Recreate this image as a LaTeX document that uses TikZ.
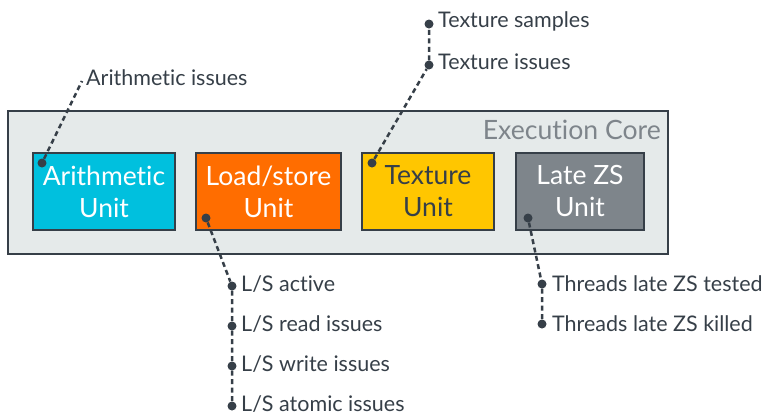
\documentclass[tikz,border=0pt]{standalone}
\usepackage{fontspec}
\setmainfont{Lato}[Ligatures={NoCommon}]
\usepackage{tikz}
\usetikzlibrary{calc}
\definecolor{ink}{HTML}{363F48}
\definecolor{corefill}{HTML}{E5EAEA}
\definecolor{arithfill}{HTML}{00C0DE}
\definecolor{lsfill}{HTML}{FF6D00}
\definecolor{texfill}{HTML}{FFC600}
\definecolor{zsfill}{HTML}{7E858B}

\tikzset{
  unitbox/.style={draw=ink, line width=2pt, minimum height=77pt, inner sep=0pt,
    align=center, font=\fontsize{26.5}{32}\selectfont},
  pin/.style={circle, fill=ink, inner sep=0pt, minimum size=9pt},
  lead/.style={ink, line width=2.5pt, dash pattern=on 5pt off 3.5pt},
  cnt/.style={anchor=west, text=ink, inner sep=0pt, font=\fontsize{21.5}{24}\selectfont}
}

\begin{document}
\begin{tikzpicture}[x=1pt, y=-1pt]
\useasboundingbox (0,0) rectangle (763,416);

\node[draw=ink, fill=corefill, line width=2pt, minimum width=660pt, minimum height=143pt] (core) at (338,182.5) {};
\node[anchor=north east, text=zsfill, inner sep=0pt, font=\fontsize{26.6}{30}\selectfont] (corelabel) at (661,120) {Execution Core};

\node[unitbox, fill=arithfill, text=white, minimum width=142pt] (arith) at (104,191.5) {Arithmetic\\Unit};
\node[unitbox, fill=lsfill, text=white, minimum width=145pt] (ls) at (268.5,191.5) {Load/store\\Unit};
\node[unitbox, fill=texfill, text=ink, minimum width=132pt] (tex) at (428,191.5) {Texture\\Unit};
\node[unitbox, fill=zsfill, text=white, minimum width=128pt] (zs) at (580,191.5) {Late ZS\\Unit};

% arithmetic
\node[pin] (arithpin) at (42,163) {};
\coordinate (arithend) at (82,81);
\draw[lead] (arithpin) -- (arithend);
\node[cnt] (arithissues) at (86,78) {Arithmetic issues};

% load/store
\node[pin] (lspin) at (206,218) {};
\node[pin] (lsactive) at (232,286) {};
\node[pin] (lsread) at (232,326) {};
\node[pin] (lswrite) at (232,366) {};
\node[pin] (lsatomic) at (232,406) {};
\draw[lead] (lspin) -- (lsactive) -- (lsread) -- (lswrite) -- (lsatomic);
\node[cnt] at ($(lsactive)+(9,-2)$) {L/S active};
\node[cnt] at ($(lsread)+(9,-2)$) {L/S read issues};
\node[cnt] at ($(lswrite)+(9,-2)$) {L/S write issues};
\node[cnt] at ($(lsatomic)+(9,-2)$) {L/S atomic issues};

% texture
\node[pin] (texpin) at (372,163) {};
\node[pin] (texissues) at (429,65) {};
\node[pin] (texsamples) at (429,24) {};
\draw[lead] (texpin) -- (texissues) -- (texsamples);
\node[cnt] at ($(texsamples)+(9,-3)$) {Texture samples};
\node[cnt] at ($(texissues)+(9,-3)$) {Texture issues};

% late zs
\node[pin] (zspin) at (528,218) {};
\node[pin] (zstested) at (542,284) {};
\node[pin] (zskilled) at (542,324) {};
\draw[lead] (zspin) -- (zstested) -- (zskilled);
\node[cnt] at ($(zstested)+(10,0)$) {Threads late ZS tested};
\node[cnt] at ($(zskilled)+(10,0)$) {Threads late ZS killed};

\end{tikzpicture}
\end{document}
